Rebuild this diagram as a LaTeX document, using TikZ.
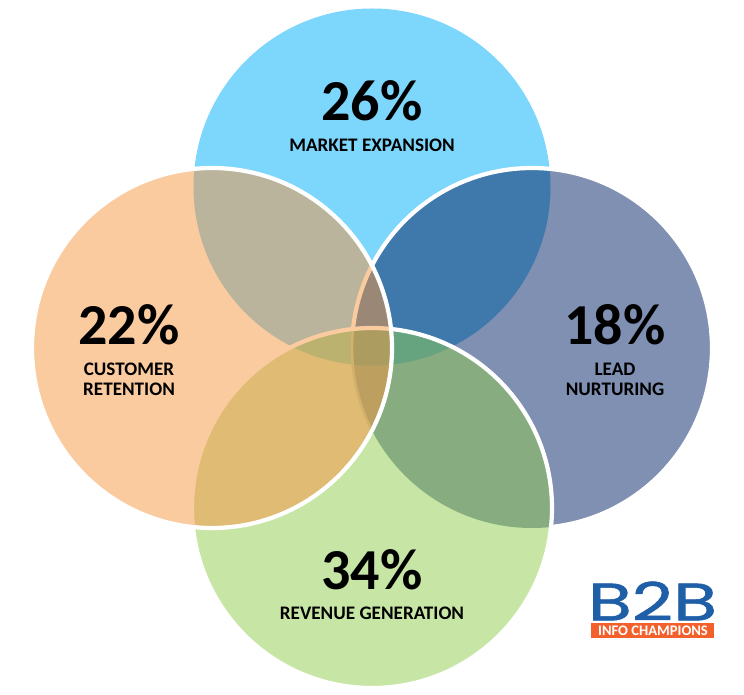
\documentclass[tikz,border=0pt]{standalone}
\usepackage{fontspec}
\setmainfont{Carlito}
\newfontfamily\logofont[FakeBold=1]{Poppins}
\definecolor{colT}{HTML}{7DD6FB}
\definecolor{colR}{HTML}{7F90B2}
\definecolor{colB}{HTML}{C7E5A4}
\definecolor{colL}{HTML}{FBCBA0}
\definecolor{colTR}{HTML}{3F79AB}
\definecolor{colTL}{HTML}{B9B49B}
\definecolor{colRB}{HTML}{86AC7F}
\definecolor{colLB}{HTML}{DFBB74}
\definecolor{colTLR}{HTML}{9A8776}
\definecolor{colTLB}{HTML}{BBB26F}
\definecolor{colTRB}{HTML}{66A37F}
\definecolor{colLRB}{HTML}{BD9F60}
\definecolor{colAll}{HTML}{AD9C60}
\definecolor{colStripe}{HTML}{D3B16C}
\definecolor{logoBlue}{HTML}{1F5FA8}
\definecolor{logoOrange}{HTML}{F4602B}
\def\cT{(372,187) circle (178.5)}
\def\cR{(532,348) circle (180)}
\def\cB{(372,508) circle (180)}
\def\cL{(212,348) circle (180)}
\begin{document}
\begin{tikzpicture}[x=0.02cm, y=-0.02cm,
    ring/.style={draw=white, line width=2.4pt},
    pct/.style={font=\fontsize{33}{33}\selectfont\bfseries, inner sep=0pt},
    lbl/.style={font=\fontsize{10.9}{11.4}\selectfont\bfseries, inner sep=0pt, align=center}]
    \useasboundingbox (0,0) rectangle (744,695);

    % Top and right
    \fill[colT] \cT;
    \fill[colR] \cR;
    \begin{scope} \clip \cT; \fill[colTR] \cR; \end{scope}
    \draw[ring] \cR;

    % Bottom
    \fill[colB] \cB;
    \begin{scope} \clip \cB; \fill[colRB] \cR; \end{scope}
    \begin{scope} \clip \cB; \clip \cR; \fill[colTRB] \cT; \end{scope}
    \draw[ring] \cB;

    % Left
    \fill[colL] \cL;
    \begin{scope}
        \clip \cL;
        \fill[colTL] \cT;
        \begin{scope} \clip \cT; \fill[colTLR] \cR; \end{scope}
        \draw[colL, line width=2.4pt] \cR;
        \fill[colLB] \cB;
        \begin{scope} \clip \cT; \fill[colTLB] \cB; \end{scope}
        \begin{scope} \clip \cB; \fill[colLRB] \cR; \end{scope}
        \begin{scope} \clip \cB; \clip \cT; \fill[colAll] \cR; \end{scope}
        \begin{scope} \clip \cB; \draw[colStripe, line width=1.4pt] \cR; \end{scope}
        \draw[colL, line width=2.4pt] \cB;
    \end{scope}
    \draw[ring] \cL;

    % Labels
    \node[pct] (pctT) at (372,101) {26\%};
    \node[lbl] (lblT) at (372,145) {MARKET EXPANSION};
    \node[pct] (pctL) at (129,325) {22\%};
    \node[lbl] (lblL) at (129,379) {CUSTOMER\\RETENTION};
    \node[pct] (pctR) at (615,325) {18\%};
    \node[lbl] (lblR) at (615,379) {LEAD\\NURTURING};
    \node[pct] (pctB) at (372,570) {34\%};
    \node[lbl] (lblB) at (372,613) {REVENUE GENERATION};

    % Logo
    \node[text=logoBlue, inner sep=0pt, xscale=1.36, font=\fontsize{30}{30}\logofont\selectfont] (logoB) at (652.5,601) {B2B};
    \fill[logoOrange] (591,623) rectangle (714,638);
    \node[text=white, inner sep=0pt, font=\fontsize{8.3}{8.3}\selectfont\bfseries] (logoT) at (653,631) {INFO CHAMPIONS};
\end{tikzpicture}
\end{document}
